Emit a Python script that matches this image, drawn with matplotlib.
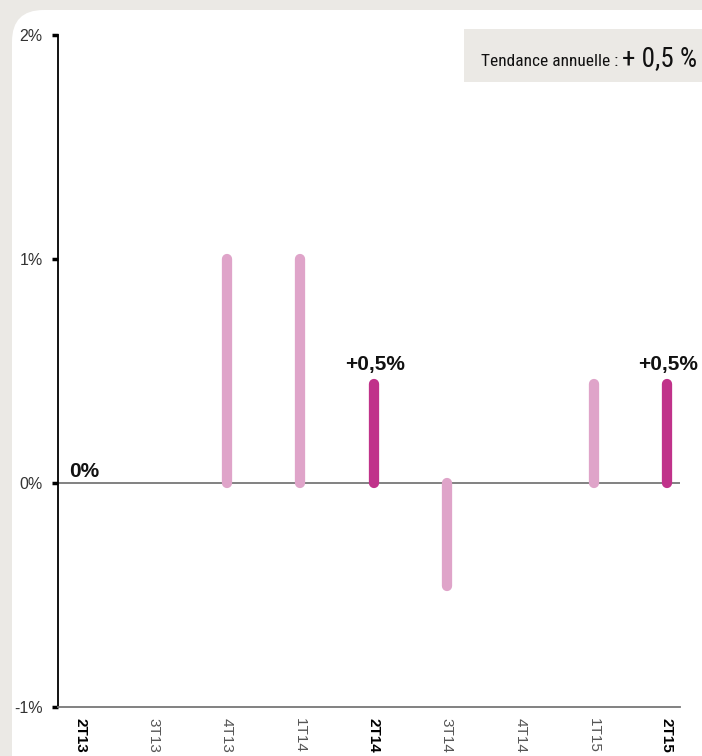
import matplotlib
matplotlib.use("Agg")
import matplotlib.pyplot as plt
from matplotlib.patches import FancyBboxPatch, Rectangle

quarters = ["2T13", "3T13", "4T13", "1T14", "2T14", "3T14", "4T14", "1T15", "2T15"]
values = [0.0, 0.0, 1.0, 1.0, 0.44, -0.46, 0.0, 0.44, 0.44]
highlight = [True, False, False, False, True, False, False, False, True]
yticks = [-1, 0, 1, 2]
ytick_labels = ["-1%", "0%", "1%", "2%"]
annotations = {0: "0%", 4: "+0,5%", 8: "+0,5%"}
trend_label = "Tendance annuelle : "
trend_value = "+ 0,5 %"

LIGHT = "#dfa4c9"
DARK = "#c0328a"
BG = "#ebe9e5"

W, H = 702, 756
fig = plt.figure(figsize=(W / 100, H / 100), dpi=100)
fig.patch.set_facecolor(BG)

# white rounded panel
panel = FancyBboxPatch((12 / W, -0.2), 1.2, (H - 10) / H + 0.2,
                       boxstyle="round,pad=0,rounding_size=0.045",
                       transform=fig.transFigure, facecolor="white",
                       edgecolor="none", zorder=-2, mutation_aspect=W / H)
fig.patches.append(panel)

# trend box
fig.patches.append(Rectangle((464 / W, 1 - 82 / H), (W - 464) / W, 53 / H,
                             transform=fig.transFigure, facecolor=BG,
                             edgecolor="none", zorder=-1))
cond = ["Roboto Condensed", "DejaVu Sans"]
t1 = fig.text(481 / W, 1 - 66 / H, trend_label, fontsize=12.5, fontweight="normal",
              family=cond, color="#111111", va="baseline", ha="left")
fig.canvas.draw()
bb = t1.get_window_extent()
fig.text(bb.x1 / W, 1 - 66 / H, trend_value, fontsize=19.5,
         family=cond, color="#111111", va="baseline", ha="left")

ax = fig.add_axes([58 / W, 49 / H, (680 - 58) / W, 672 / H])
ax.set_zorder(2)
ax.set_facecolor("none")
ax.set_xlim(-0.307, 8.18)
ax.set_ylim(-1, 2)

for i, (v, hl) in enumerate(zip(values, highlight)):
    if v != 0:
        ax.plot([i, i], [0, v], color=DARK if hl else LIGHT, lw=7.4,
                solid_capstyle="round", zorder=3)

ax.axhline(0, color="#777777", lw=1.3, zorder=2)

for s in ["top", "right"]:
    ax.spines[s].set_visible(False)
ax.spines["left"].set_color("black")
ax.spines["left"].set_linewidth(1.3)
ax.spines["bottom"].set_color("#777777")
ax.spines["bottom"].set_linewidth(1.3)

ax.set_yticks(yticks)
ax.set_yticklabels(ytick_labels, fontsize=11.5, color="#333333",
                   family=["Liberation Sans", "DejaVu Sans"])
ax.tick_params(axis="y", length=4, width=2.5, color="black", pad=7)

ax.set_xticks(range(len(quarters)))
ax.set_xticklabels(quarters, rotation=-90, fontsize=11,
                   family=["Liberation Sans", "DejaVu Sans"])
ax.tick_params(axis="x", length=0, pad=8)
for lab, hl in zip(ax.get_xticklabels(), highlight):
    lab.set_va("top")
    if hl:
        lab.set_fontweight("bold")
        lab.set_color("black")
    else:
        lab.set_color("#555555")

ann_font = dict(fontsize=15, fontweight="bold",
                family=["Liberation Sans", "DejaVu Sans"], color="#111111")
for i, txt in annotations.items():
    if i == 0:
        ax.annotate(txt, (0, 0), xytext=(-11, 6), textcoords="offset pixels",
                    ha="left", va="baseline", **ann_font)
    else:
        ax.annotate(txt, (i, values[i]), xytext=(1, 14),
                    textcoords="offset pixels", ha="center", va="baseline",
                    **ann_font)

fig.savefig("out.png", dpi=100, facecolor=BG)
